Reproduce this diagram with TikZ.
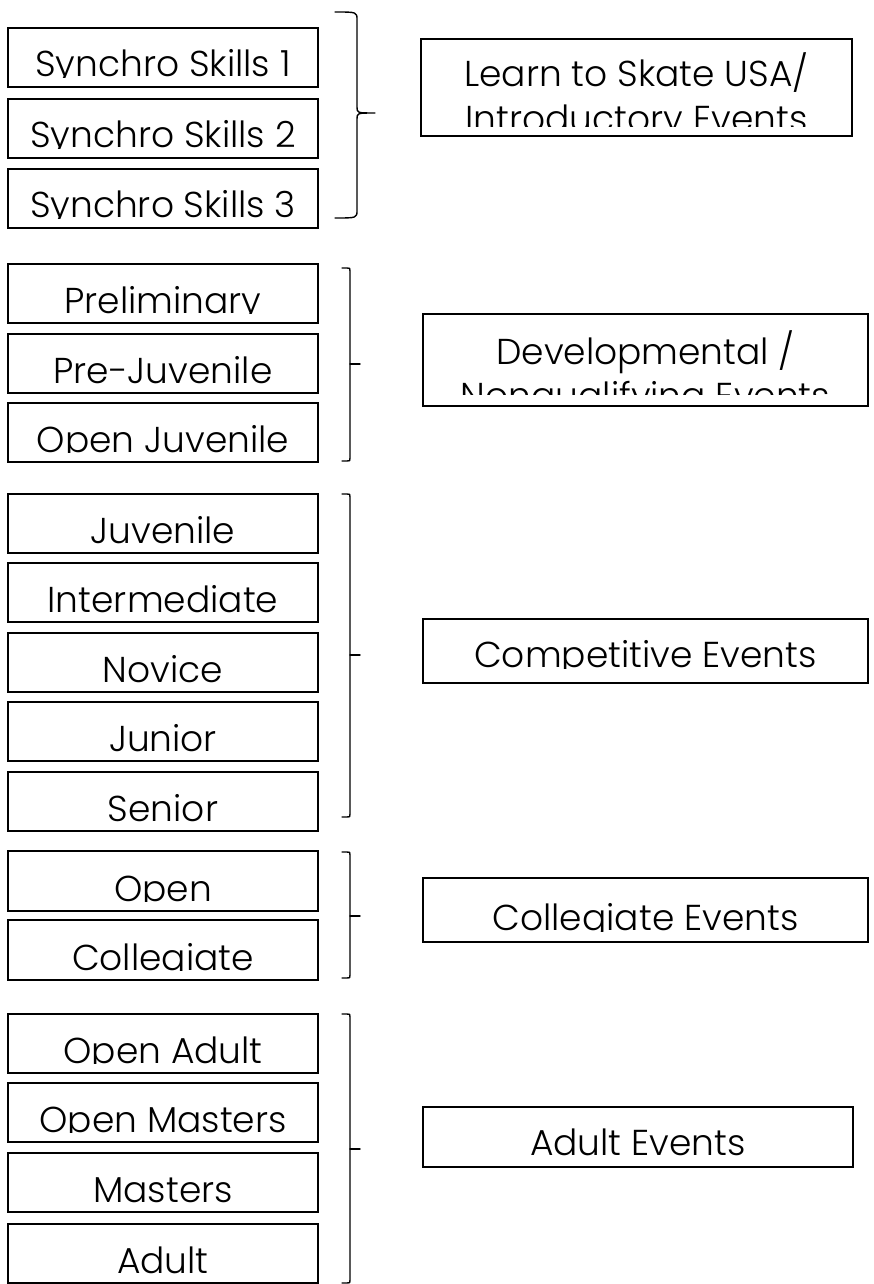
\documentclass[tikz,border=0pt]{standalone}
\usepackage{fontspec}
\setmainfont{Poppins}[UprightFont=* Light]
\tikzset{
  lvl/.style={draw, line width=1.6pt, inner sep=0pt, outer sep=0pt, minimum width=310pt},
  catbox/.style={draw, line width=1.6pt, inner sep=0pt, outer sep=0pt},
  txt/.style={anchor=base, inner sep=0pt, outer sep=0pt, font=\fontsize{36}{43}\selectfont},
  brace/.style={line width=1.4pt, line cap=round, line join=round}
}
\newcommand\levelbox[4]{%
  \node[lvl, minimum height={(#3-#2)*1pt}] (#1) at (163,{(#2+#3)/2}) {};
  \begin{scope}
    \clip ([xshift=1pt,yshift=-1pt]#1.north west) rectangle ([xshift=-1pt,yshift=9.5pt]#1.south east);
    \node[txt] (#1t) at ([yshift=10pt]#1.south) {#4};
  \end{scope}}
\newcommand\bigbrace[6]{% x0 x1 x2 ytop ymid ybot
  \draw[brace] (#1,#4) .. controls (#2,#4) .. (#2,{#4+8}) -- (#2,{#5-6})
     .. controls (#2,#5) .. (#3,#5) .. controls (#2,#5) .. (#2,{#5+6})
     -- (#2,{#6-8}) .. controls (#2,#6) .. (#1,#6);}
\newcommand\smallbrace[6]{% x0 x1 x2 ytop ymid ybot
  \draw[brace] (#1,#4) -- ({#2-3},#4) .. controls (#2,#4) .. (#2,{#4+3}) -- (#2,{#6-3})
     .. controls (#2,#6) .. ({#2-3},#6) -- (#1,#6);
  \draw[brace] (#2,#5) -- (#3,#5);}
\begin{document}
\begin{tikzpicture}[x=1pt,y=-1pt]
\useasboundingbox (0,0) rectangle (873,1284);
% left level boxes
\levelbox{s1}{28}{87}{Synchro Skills 1}
\levelbox{s2}{99}{158}{Synchro Skills 2}
\levelbox{s3}{169}{228}{Synchro Skills 3}
\levelbox{prel}{264}{323}{Preliminary}
\levelbox{prej}{334}{393}{Pre-Juvenile}
\levelbox{openj}{403}{462}{Open Juvenile}
\levelbox{juv}{494}{553}{Juvenile}
\levelbox{inter}{563}{622}{Intermediate}
\levelbox{nov}{633}{692}{Novice}
\levelbox{jun}{702}{761}{Junior}
\levelbox{sen}{772}{831}{Senior}
\levelbox{open}{851}{911}{Open}
\levelbox{coll}{920}{980}{Collegiate}
\levelbox{oadult}{1014}{1073}{Open Adult}
\levelbox{omast}{1083}{1142}{Open Masters}
\levelbox{mast}{1153}{1212}{Masters}
\levelbox{adult}{1224}{1283}{Adult}
% braces
\bigbrace{335}{357}{375}{12}{113}{218}
\smallbrace{342}{350}{360}{268}{364}{461}
\smallbrace{342}{350}{360}{494}{655}{817}
\smallbrace{342}{350}{360}{852}{916}{978}
\smallbrace{342}{350}{360}{1014}{1149}{1283}
% category boxes
\node[catbox, minimum width=431pt, minimum height=97pt] (learn) at (636.5,87.5) {};
\begin{scope}
  \clip ([xshift=1pt,yshift=-1pt]learn.north west) rectangle ([xshift=-1pt,yshift=9pt]learn.south east);
  \node[txt] (learn1) at ([yshift=49pt]learn.south) {Learn to Skate USA/};
  \node[txt] (learn2) at ([yshift=4pt]learn.south) {Introductory Events};
\end{scope}
\node[catbox, minimum width=445pt, minimum height=92pt] (devel) at (645.5,360) {};
\begin{scope}
  \clip ([xshift=1pt,yshift=-1pt]devel.north west) rectangle ([xshift=-1pt,yshift=12pt]devel.south east);
  \node[txt] (devel1) at ([yshift=42pt]devel.south) {Developmental /};
  \node[txt] (devel2) at ([yshift=-2pt]devel.south) {Nonqualifying Events};
\end{scope}
\node[catbox, minimum width=445pt, minimum height=64pt] (comp) at (645.5,651) {};
\begin{scope}
  \clip ([xshift=1pt,yshift=-1pt]comp.north west) rectangle ([xshift=-1pt,yshift=15pt]comp.south east);
  \node[txt] (comp1) at ([yshift=16pt]comp.south) {Competitive Events};
\end{scope}
\node[catbox, minimum width=445pt, minimum height=64pt] (colev) at (645.5,910) {};
\begin{scope}
  \clip ([xshift=1pt,yshift=-1pt]colev.north west) rectangle ([xshift=-1pt,yshift=11pt]colev.south east);
  \node[txt] (colev1) at ([yshift=12pt]colev.south) {Collegiate Events};
\end{scope}
\node[catbox, minimum width=430pt, minimum height=60pt] (adev) at (638,1137) {};
\begin{scope}
  \clip ([xshift=1pt,yshift=-1pt]adev.north west) rectangle ([xshift=-1pt,yshift=11pt]adev.south east);
  \node[txt] (adev1) at ([yshift=12pt]adev.south) {Adult Events};
\end{scope}
\end{tikzpicture}
\end{document}
